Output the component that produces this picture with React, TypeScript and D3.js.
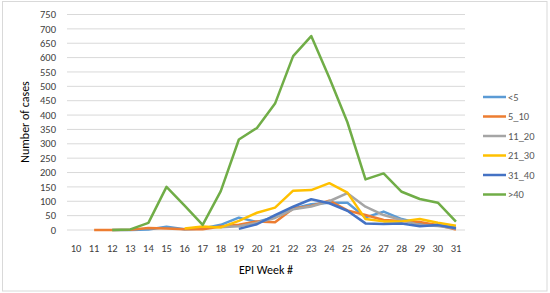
import React from "react";
import * as d3 from "d3";

const weeks = ["10","11","12","13","14","15","16","17","18","19","20","21","22","23","24","25","26","27","28","29","30","31"];
const yTicks = [0,50,100,150,200,250,300,350,400,450,500,550,600,650,700,750];

type V = number | null;
const under5: V[] = [null,null,0,0,2,11,3,5,18,43,28,45,75,90,95,95,44,64,38,23,17,8];
const s5_10: V[] = [null,0,0,1,7,5,3,3,12,18,30,27,75,84,102,68,52,35,31,28,17,2];
const s11_20: V[] = [null,null,null,null,null,null,null,null,10,13,25,42,72,82,100,128,81,52,35,17,14,5];
const s21_30: V[] = [null,null,null,null,null,null,5,12,9,32,60,78,137,139,163,130,38,30,30,38,25,15];
const s31_40: V[] = [null,null,null,null,null,null,null,null,null,4,20,52,81,107,93,67,23,21,23,13,17,6];
const over40: V[] = [null,null,0,2,25,150,85,18,135,315,355,440,605,675,530,375,176,197,133,108,95,29];

const seriesNames = ["<5","5_10","11_20","21_30","31_40",">40"];
const seriesValues = [under5, s5_10, s11_20, s21_30, s31_40, over40];
const seriesColors = ["#5B9BD5","#ED7D31","#A5A5A5","#FFC000","#4472C4","#70AD47"];

export default function App() {
  const W = 550, H = 293;
  const x = d3.scalePoint<string>().domain(weeks).range([67, 465]).padding(0.5);
  const y = d3.scaleLinear().domain([0, 750]).range([230, 14.5]);
  const line = d3.line<V>()
    .defined(d => d !== null)
    .x((_, i) => x(weeks[i]) as number)
    .y(d => y(d as number));
  const font = "Carlito, Calibri, 'Open Sans', 'Noto Sans', sans-serif";
  return (
    <svg width={W} height={H} style={{ position: "absolute", left: 0, top: 0 }} fontFamily={font}>
      <rect x={0} y={0} width={W} height={H} fill="#fff" />
      <rect x={2.5} y={1.5} width={544.5} height={289.5} fill="none" stroke="#d9d9d9" strokeWidth={1} />
      {yTicks.map(t => (
        <g key={t}>
          <line x1={67} x2={465} y1={y(t)} y2={y(t)} stroke="#d9d9d9" strokeWidth={1} />
          <text x={56} y={y(t)} dy="0.35em" textAnchor="end" fontSize={10.5} fill="#404040">{t}</text>
        </g>
      ))}
      {weeks.map(w => (
        <text key={w} x={x(w) as number} y={248} dy="0.35em" textAnchor="middle" fontSize={10.5} fill="#404040">{w}</text>
      ))}
      <text x={266} y={270} dy="0.35em" textAnchor="middle" fontSize={12} fill="#000">EPI Week #</text>
      <text transform={`translate(25,122) rotate(-90)`} dy="0.35em" textAnchor="middle" fontSize={12} fill="#000">Number of cases</text>
      {seriesValues.map((vals, i) => (
        <path key={i} d={line(vals) || ""} fill="none" stroke={seriesColors[i]} strokeWidth={2.5} strokeLinejoin="round" />
      ))}
      {seriesNames.map((n, i) => {
        const ly = 97 + i * 19.5;
        return (
          <g key={n}>
            <line x1={483} x2={506} y1={ly} y2={ly} stroke={seriesColors[i]} strokeWidth={2.5} />
            <text x={508} y={ly} dy="0.35em" fontSize={10.5} fill="#595959">{n}</text>
          </g>
        );
      })}
    </svg>
  );
}
